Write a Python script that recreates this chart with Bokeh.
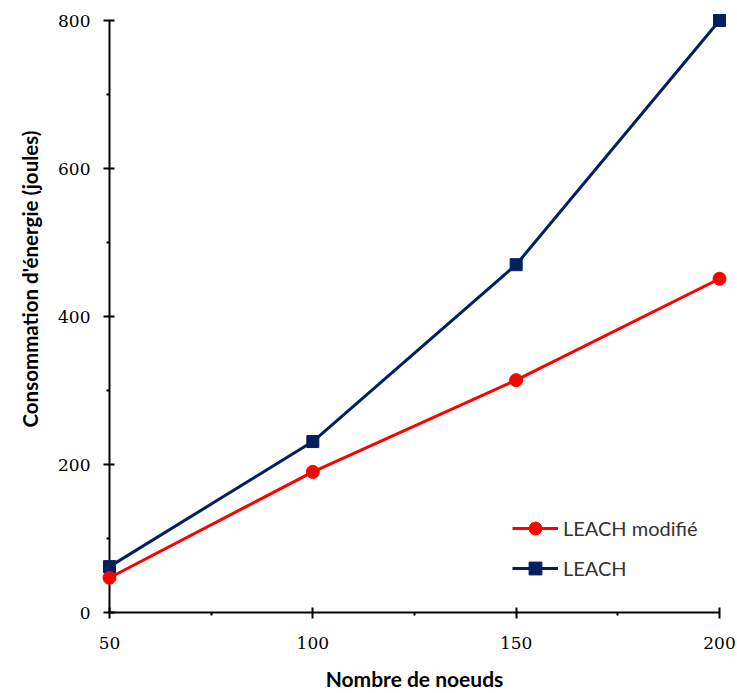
from bokeh.plotting import figure
from bokeh.models import Range1d, FixedTicker, Legend, LegendItem, Title
from bokeh.embed import file_html
from bokeh.resources import INLINE

nodes = [50, 100, 150, 200]
leach_modifie = [47, 190, 314, 451]
leach = [62, 231, 470, 800]
x_ticks = [50, 100, 150, 200]
x_minor = [75, 125, 175]
y_ticks = [0, 200, 400, 600, 800]
y_minor = [100, 300, 500, 700]

RED = "#FF0000"
BLUE = "#002060"

p = figure(width=737, height=693, output_backend="svg", toolbar_location=None,
           x_range=Range1d(50, 200), y_range=Range1d(0, 800),
           min_border_left=109, min_border_right=18, min_border_top=20, min_border_bottom=81)
p.outline_line_color = None
p.xgrid.visible = False
p.ygrid.visible = False
p.background_fill_color = "white"
p.border_fill_color = "white"

for ax, ticks, minor in ((p.xaxis[0], x_ticks, x_minor), (p.yaxis[0], y_ticks, y_minor)):
    ax.ticker = FixedTicker(ticks=ticks, minor_ticks=minor)
    ax.axis_line_width = 2
    ax.axis_line_color = "black"
    ax.major_tick_line_width = 2
    ax.major_tick_line_color = "black"
    ax.major_tick_in = 5
    ax.major_tick_out = 6
    ax.minor_tick_line_width = 2
    ax.minor_tick_line_color = "black"
    ax.minor_tick_in = 0
    ax.minor_tick_out = 3
    ax.major_label_text_font = "DejaVu Serif"
    ax.major_label_text_font_size = "17px"
    ax.major_label_text_color = "black"

p.xaxis[0].major_label_standoff = 18
p.yaxis[0].major_label_standoff = 13
p.xaxis[0].axis_label = "Nombre de noeuds"
p.xaxis[0].axis_label_text_font = "Lato"
p.xaxis[0].axis_label_text_font_style = "bold"
p.xaxis[0].axis_label_text_font_size = "21px"
p.xaxis[0].axis_label_text_color = "black"
p.xaxis[0].axis_label_standoff = 14

bl = p.line(nodes, leach, line_color=BLUE, line_width=3, level="overlay")
bs = p.scatter(nodes, leach, marker="square", size=12, fill_color=BLUE, line_color=BLUE, level="overlay")
rl = p.line(nodes, leach_modifie, line_color=RED, line_width=3, level="overlay")
rc = p.scatter(nodes, leach_modifie, marker="circle", size=13, fill_color=RED, line_color=RED, level="overlay")

legend = Legend(items=[LegendItem(label="LEACH modifié", renderers=[rl, rc]),
                       LegendItem(label="LEACH", renderers=[bl, bs])],
                location=(403, 28), padding=0, margin=0, spacing=8,
                glyph_width=46, glyph_height=32, label_height=32, label_standoff=5,
                label_text_font="Lato", label_text_font_size="20px",
                label_text_color="#333333", border_line_color=None,
                background_fill_alpha=0)
p.add_layout(legend, "center")

p.add_layout(Title(text="Consommation d'énergie (joules)", text_font="Lato",
                   text_font_style="bold", text_font_size="20.5px", align="left",
                   offset=185, standoff=27, text_color="black"), "left")

open("out.html", "w").write(file_html(p, INLINE))
